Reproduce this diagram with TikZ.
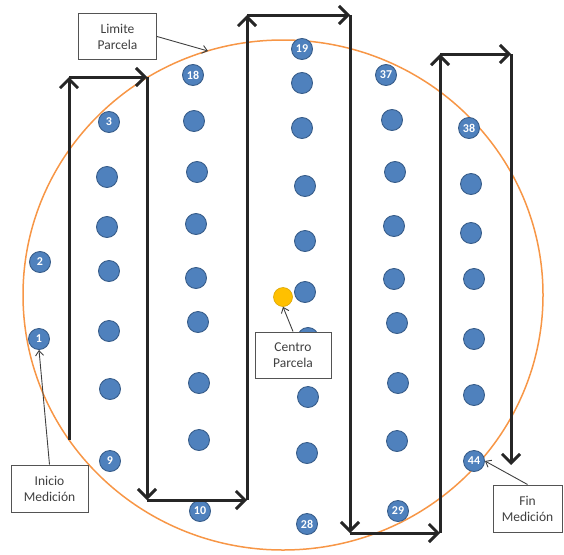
\documentclass[tikz,border=0pt]{standalone}
\usepackage{fontspec}
\setmainfont{Carlito}
\usetikzlibrary{arrows.meta}
\definecolor{dotblue}{HTML}{4F81BD}
\definecolor{dotedge}{HTML}{385D8A}
\definecolor{ringorange}{HTML}{F79646}
\definecolor{centeryellow}{HTML}{FFC000}
\definecolor{labelgray}{HTML}{404040}
\tikzset{
  dot/.style={circle,fill=dotblue,draw=dotedge,line width=0.9pt,minimum size=21pt,inner sep=0pt},
  numdot/.style={circle,fill=dotblue,draw=dotedge,line width=0.9pt,minimum size=21pt,inner sep=0pt,
    text=white,font=\fontsize{12}{12}\selectfont\bfseries},
  pathseg/.style={line width=3pt,draw=black!85,-{Straight Barb[length=9pt,width=18pt,line width=3pt]}},
  labelbox/.style={draw=labelgray!90,line width=1pt,fill=white,align=center,inner sep=0pt,
    text=labelgray,font=\fontsize{13.5}{16}\selectfont},
  pointer/.style={draw=labelgray,line width=0.9pt,-{Straight Barb[length=5pt,width=8pt]}}
}
\begin{document}
\begin{tikzpicture}[x=1pt,y=-1pt]
\useasboundingbox (0,0) rectangle (564,554);
% plot boundary
\draw[ringorange,line width=1.5pt] (283,295) ellipse [x radius=260, y radius=255];
% dots column 1
\node[numdot] (d2) at (40,262) {2};
\node[numdot] (d1) at (39,339) {1};
% column 2
\node[numdot] (d3) at (109,122) {3};
\node[dot] (d4) at (107,177) {};
\node[dot] (d5) at (107,227) {};
\node[dot] (d6) at (109,271) {};
\node[dot] (d7) at (109,331) {};
\node[dot] (d8) at (110,389) {};
\node[numdot] (d9) at (110,461) {9};
% column 3
\node[numdot] (d18) at (193,75) {18};
\node[dot] (d17) at (194,121) {};
\node[dot] (d16) at (197,172) {};
\node[dot] (d15) at (196,224) {};
\node[dot] (d14) at (196,278) {};
\node[dot] (d13) at (198,322) {};
\node[dot] (d12) at (199,383) {};
\node[dot] (d11) at (199,440) {};
\node[numdot] (d10) at (200,511) {10};
% column 4
\node[numdot] (d19) at (302,49) {19};
\node[dot] (d20) at (302,83) {};
\node[dot] (d21) at (302,128) {};
\node[dot] (d22) at (305,186) {};
\node[dot] (d23) at (305,241) {};
\node[dot] (d24) at (305,292) {};
\node[dot] (d25) at (308,338) {};
\node[dot] (d26) at (308,397) {};
\node[dot] (d27) at (307,453) {};
\node[numdot] (d28) at (307,524) {28};
% column 5
\node[numdot] (d37) at (386,75) {37};
\node[dot] (d36) at (392,120) {};
\node[dot] (d35) at (395,172) {};
\node[dot] (d34) at (394,226) {};
\node[dot] (d33) at (394,279) {};
\node[dot] (d32) at (397,323) {};
\node[dot] (d31) at (398,383) {};
\node[dot] (d30) at (397,441) {};
\node[numdot] (d29) at (398,511) {29};
% column 6
\node[numdot] (d38) at (469,128) {38};
\node[dot] (d39) at (471,184) {};
\node[dot] (d40) at (471,233) {};
\node[dot] (d41) at (474,279) {};
\node[dot] (d42) at (474,339) {};
\node[dot] (d43) at (474,395) {};
\node[numdot] (d44) at (474,461) {44};
% centre
\node[circle,fill=centeryellow,draw=centeryellow!85!black,line width=0.6pt,minimum size=19pt,inner sep=0pt] (ctr) at (283,297) {};
% measurement route
\coordinate (p0) at (69,440);
\coordinate (p1) at (69,77);
\coordinate (p2) at (147,77);
\coordinate (p3) at (147,500);
\coordinate (p4) at (247,500);
\coordinate (p5) at (247,15);
\coordinate (p6) at (350,15);
\coordinate (p7) at (350,533);
\coordinate (p8) at (440,533);
\coordinate (p9) at (440,54);
\coordinate (p10) at (511,54);
\coordinate (p11) at (511,465);
\draw[pathseg] (p0) -- (p1);
\draw[pathseg] (p1) -- (p2);
\draw[pathseg] (p2) -- (p3);
\draw[pathseg] (p3) -- (p4);
\draw[pathseg] (p4) -- (p5);
\draw[pathseg] (p5) -- (p6);
\draw[pathseg] (p6) -- (p7);
\draw[pathseg] (p7) -- (p8);
\draw[pathseg] (p8) -- (p9);
\draw[pathseg] (p9) -- (p10);
\draw[pathseg] (p10) -- (p11);
% labels
\node[labelbox,minimum width=78pt,minimum height=46pt] (lim) at (117.5,36.5) {Limite\\Parcela};
\node[labelbox,minimum width=77pt,minimum height=47pt] (ini) at (49.5,488.5) {Inicio\\Medición};
\node[labelbox,minimum width=76pt,minimum height=46pt] (cen) at (293,355) {Centro\\Parcela};
\node[labelbox,minimum width=69pt,minimum height=47pt] (fin) at (527.5,508.5) {Fin\\Medición};
\coordinate (limtip) at (208,51);
\draw[pointer] (lim.east) -- (limtip);
\draw[pointer] (ini.north) -- (d1.south);
\draw[pointer] (cen.north) -- (ctr.south);
\draw[pointer] (fin.north) -- (d44.east);
\end{tikzpicture}
\end{document}
